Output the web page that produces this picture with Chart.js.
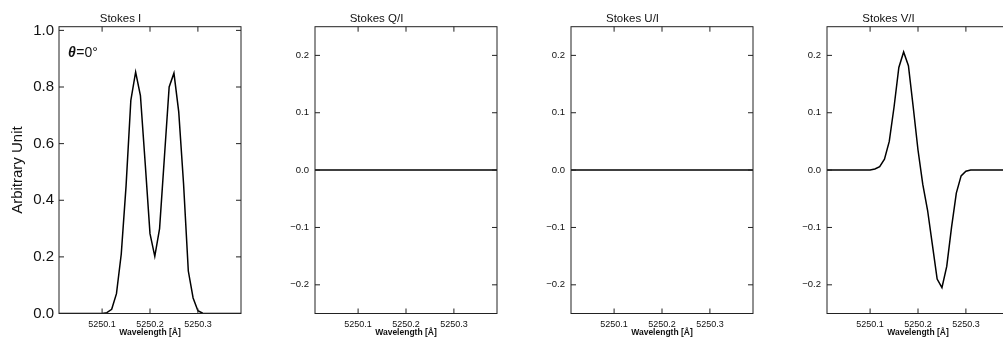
<!DOCTYPE html>
<html><head><meta charset="utf-8">
<script src="https://cdn.jsdelivr.net/npm/chart.js@4/dist/chart.umd.min.js"></script>
<style>
html,body{margin:0;padding:0;background:#fff;overflow:hidden;width:1003px;height:342px;position:relative;}
canvas.p{position:absolute;top:0;}
</style></head><body>
<canvas id="c0" class="p" width="256" height="342" style="left:0px"></canvas>
<canvas id="c1" class="p" width="256" height="342" style="left:256px"></canvas>
<canvas id="c2" class="p" width="256" height="342" style="left:512px"></canvas>
<canvas id="c3" class="p" width="256" height="342" style="left:768px"></canvas>
<script>
// ---- data ----
const wavelengths = [5250.01, 5250.10, 5250.11, 5250.12, 5250.13, 5250.14, 5250.15, 5250.16,
  5250.17, 5250.18, 5250.19, 5250.20, 5250.21, 5250.22, 5250.23, 5250.24, 5250.25, 5250.26,
  5250.27, 5250.28, 5250.29, 5250.30, 5250.31, 5250.39];
const stokesI = [0, 0, 0.003, 0.015, 0.07, 0.21, 0.45, 0.753, 0.853, 0.77, 0.53, 0.282,
  0.202, 0.30, 0.55, 0.80, 0.849, 0.712, 0.46, 0.15, 0.055, 0.01, 0.001, 0];
const stokesQ = [0, 0, 0, 0, 0, 0, 0, 0, 0, 0, 0, 0, 0, 0, 0, 0, 0, 0, 0, 0, 0, 0, 0, 0];
const stokesU = [0, 0, 0, 0, 0, 0, 0, 0, 0, 0, 0, 0, 0, 0, 0, 0, 0, 0, 0, 0, 0, 0, 0, 0];
const stokesV = [0, 0, 0.002, 0.006, 0.019, 0.05, 0.11, 0.179, 0.206, 0.182, 0.11, 0.035,
  -0.025, -0.07, -0.13, -0.19, -0.205, -0.168, -0.10, -0.04, -0.01, -0.002, 0, 0];
const panelTitles = ['Stokes I', 'Stokes Q/I', 'Stokes U/I', 'Stokes V/I'];
const xTicks = [5250.1, 5250.2, 5250.3];
const yTicksI = [0, 0.2, 0.4, 0.6, 0.8, 1.0];
const yTicksPol = [-0.2, -0.1, 0, 0.1, 0.2];
const xRange = [5250.01, 5250.39];
const yRangeI = [0, 1.013];
const yRangePol = [-0.25, 0.25];
const xTitle = 'Wavelength [Å]';
const yTitleI = 'Arbitrary Unit';

Chart.defaults.font.family = '"Liberation Sans", Arial, sans-serif';
Chart.defaults.color = '#111';

const framePlugin = {
  id: 'frame',
  afterDatasetsDraw(chart) {
    const {ctx, chartArea: {left, right, top, bottom}, scales: {x, y}} = chart;
    ctx.save();
    ctx.strokeStyle = '#222';
    ctx.lineWidth = 1;
    ctx.strokeRect(left, top, right - left, bottom - top);
    ctx.beginPath();
    const L = 5;
    x.ticks.forEach(t => {
      const px = x.getPixelForValue(t.value);
      ctx.moveTo(px, bottom); ctx.lineTo(px, bottom - L);
      ctx.moveTo(px, top); ctx.lineTo(px, top + L);
    });
    y.ticks.forEach(t => {
      const py = y.getPixelForValue(t.value);
      ctx.moveTo(left, py); ctx.lineTo(left + L, py);
      ctx.moveTo(right, py); ctx.lineTo(right - L, py);
    });
    ctx.stroke();
    ctx.restore();
  }
};

const thetaPlugin = {
  id: 'theta',
  afterDraw(chart) {
    const ctx = chart.ctx;
    ctx.save();
    ctx.fillStyle = '#111';
    ctx.textBaseline = 'alphabetic';
    ctx.font = 'italic bold 14px "Liberation Sans", Arial, sans-serif';
    const x0 = 68, y0 = 57;
    ctx.fillText('θ', x0, y0);
    const w = ctx.measureText('θ').width;
    ctx.font = '14px "Liberation Sans", Arial, sans-serif';
    ctx.fillText('=0°', x0 + w + 0.5, y0);
    ctx.restore();
  }
};

function fmt(v) {
  const s = Math.abs(v).toFixed(1);
  return v < -1e-9 ? '\u2212' + s : s;
}

function makePanel(id, idx, values, isI) {
  const points = wavelengths.map((w, i) => ({x: w, y: values[i]}));
  const yTicks = isI ? yTicksI : yTicksPol;
  const yRange = isI ? yRangeI : yRangePol;
  return new Chart(document.getElementById(id), {
    type: 'line',
    data: {datasets: [{
      data: points,
      borderColor: '#000',
      borderWidth: 1.5,
      pointRadius: 0,
      tension: 0,
      fill: false
    }]},
    options: {
      responsive: false,
      animation: false,
      devicePixelRatio: 1,
      events: [],
      layout: {padding: {left: 0, right: 15, top: 0, bottom: 0}},
      plugins: {
        legend: {display: false},
        tooltip: {enabled: false},
        title: {
          display: true,
          text: panelTitles[idx],
          color: '#111',
          font: {size: 11.5, weight: 'normal'},
          padding: {top: 11.5, bottom: 1.4}
        }
      },
      scales: {
        x: {
          type: 'linear',
          min: xRange[0], max: xRange[1],
          grid: {display: false, drawTicks: false},
          border: {display: false},
          afterBuildTicks: s => { s.ticks = xTicks.map(v => ({value: v})); },
          afterFit: s => { s.height = 28.5; },
          ticks: {
            autoSkip: false, maxRotation: 0, padding: 6,
            font: {size: 9}, color: '#111',
            callback: v => v.toFixed(1)
          },
          title: {
            display: true, text: xTitle, color: '#111',
            font: {size: 8.5, weight: 'bold'},
            padding: {top: 0, bottom: 4}
          }
        },
        y: {
          type: 'linear',
          min: yRange[0], max: yRange[1],
          grid: {display: false, drawTicks: false},
          border: {display: false},
          afterBuildTicks: s => { s.ticks = yTicks.map(v => ({value: v})); },
          afterFit: s => { s.width = 59; },
          ticks: {
            autoSkip: false, padding: isI ? 5 : 6,
            font: {size: isI ? 15 : 9.5}, color: '#111',
            callback: v => fmt(v)
          },
          title: {
            display: isI, text: yTitleI, color: '#111',
            font: {size: 15},
            padding: {top: 8.5, bottom: 0}
          }
        }
      }
    },
    plugins: isI ? [framePlugin, thetaPlugin] : [framePlugin]
  });
}

makePanel('c0', 0, stokesI, true);
makePanel('c1', 1, stokesQ, false);
makePanel('c2', 2, stokesU, false);
makePanel('c3', 3, stokesV, false);
</script>
</body></html>
